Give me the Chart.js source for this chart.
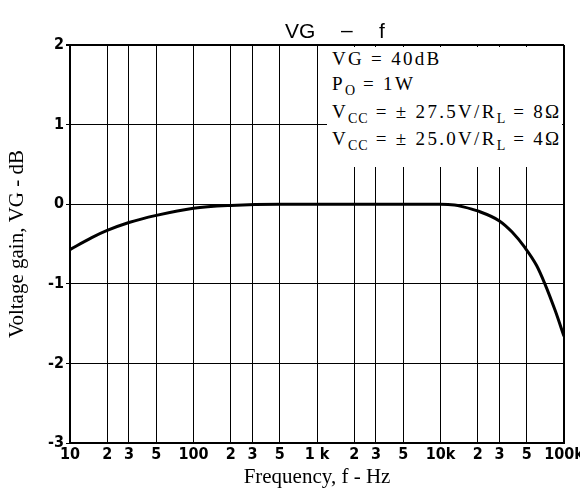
<!DOCTYPE html>
<html>
<head>
<meta charset="utf-8">
<script src="https://cdn.jsdelivr.net/npm/chart.js@4"></script>
<style>
  html, body { margin:0; padding:0; background:#fff; }
  #wrap { position:relative; width:580px; height:491px; }
  canvas { position:absolute; left:0; top:0; }
  .t { position:absolute; font-family:"Liberation Sans", Arial, sans-serif; font-size:21px; color:#000; line-height:1; white-space:pre; }
  #box { position:absolute; left:327px; top:47px; width:235px; height:120px; background:#fff;
         font-family:"Liberation Serif", "Times New Roman", serif; font-size:19px; color:#000; letter-spacing:2.3px; }
  #box div { position:absolute; left:5px; white-space:pre; line-height:1; }
  sub { font-size:14px; vertical-align:-5px; line-height:0; letter-spacing:1px; }
</style>
</head>
<body>
<div id="wrap">
  <canvas id="c" width="580" height="491"></canvas>
  <span class="t" style="left:285px; top:20px;">VG</span>
  <span class="t" style="left:341px; top:19px;">–</span>
  <span class="t" style="left:379px; top:20px;">f</span>
  <div id="box">
    <div style="top:2px;">VG = 40dB</div>
    <div style="top:27px;">P<sub>O</sub> = 1W</div>
    <div style="top:55px;">V<sub>CC</sub> = ± 27.5V/R<sub>L</sub> = 8Ω</div>
    <div style="top:82px;">V<sub>CC</sub> = ± 25.0V/R<sub>L</sub> = 4Ω</div>
  </div>
</div>
<script>
const freqs = [10, 15, 20, 30, 50, 100, 200, 500, 1000, 5000, 10000, 13000, 15000, 20000, 30000, 38000, 48000, 60000, 70000, 85000, 100000];
const gain  = [-0.57, -0.42, -0.33, -0.23, -0.14, -0.05, -0.015, 0, 0, 0, 0, -0.01, -0.03, -0.085, -0.21, -0.35, -0.54, -0.77, -1.0, -1.34, -1.66];

const xTickValues = [10, 20, 30, 50, 100, 200, 300, 500, 1000, 2000, 3000, 5000, 10000, 20000, 30000, 50000, 100000];
const xTickLabels = ['10', '2', '3', '5', '100', '2', '3', '5', '1 k', '2', '3', '5', '10k', '2', '3', '5', '100k'];
const yTickValues = [-3, -2, -1, 0, 1, 2];

const tickFont = { family: '"Liberation Sans Narrow", "DejaVu Sans Condensed", "Liberation Sans", Arial, sans-serif', size: 16, weight: 'bold' };
const titleFont = { family: '"Liberation Serif", "Times New Roman", serif', size: 21 };

new Chart(document.getElementById('c'), {
  type: 'line',
  data: {
    datasets: [{
      data: freqs.map((f, i) => ({ x: f, y: gain[i] })),
      borderColor: '#000',
      borderWidth: 3,
      pointRadius: 0,
      cubicInterpolationMode: 'monotone',
      fill: false
    }]
  },
  options: {
    responsive: false,
    animation: false,
    layout: { padding: { top: 45, right: 16, left: 0, bottom: 0 } },
    plugins: { legend: { display: false }, tooltip: { enabled: false }, title: { display: false } },
    scales: {
      x: {
        type: 'logarithmic',
        min: 10, max: 100000,
        afterBuildTicks: s => { s.ticks = xTickValues.map(v => ({ value: v })); },
        afterFit: s => { s.height = 48; s.paddingLeft = 0; s.paddingRight = 0; },
        ticks: {
          autoSkip: false, maxRotation: 0, minRotation: 0, padding: 2,
          color: '#000', font: tickFont,
          callback: (v, i) => xTickLabels[i]
        },
        grid: {
          color: '#000',
          lineWidth: ctx => (ctx.tick && ctx.tick.value === 100000) ? 2 : 1,
          drawTicks: false
        },
        border: { color: '#000', width: 2 },
        title: { display: true, text: 'Frequency, f - Hz', color: '#000', font: titleFont, padding: { top: 0, bottom: 1 } }
      },
      y: {
        min: -3, max: 2,
        afterBuildTicks: s => { s.ticks = yTickValues.map(v => ({ value: v })); },
        afterFit: s => { s.width = 70; s.paddingTop = 0; s.paddingBottom = 0; },
        ticks: { color: '#000', font: tickFont, padding: 2, callback: v => String(v) },
        grid: {
          color: '#000',
          lineWidth: ctx => (ctx.tick && ctx.tick.value === 2) ? 2 : 1,
          drawTicks: true,
          tickLength: 4
        },
        border: { color: '#000', width: 2 },
        title: { display: true, text: 'Voltage gain, VG - dB', color: '#000', font: titleFont, padding: { top: 5, bottom: 0 } }
      }
    }
  }
});
</script>
</body>
</html>
